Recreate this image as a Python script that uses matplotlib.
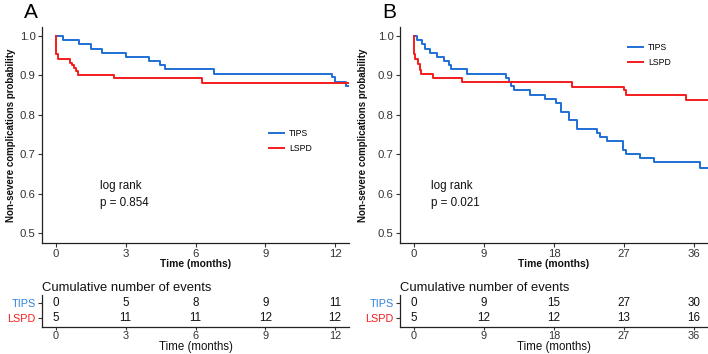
import numpy as np
import matplotlib
matplotlib.use("Agg")
import matplotlib.pyplot as plt

plt.rcParams['font.family'] = ['Liberation Sans', 'DejaVu Sans']

# panel A (12 months)
tips_a_t = [0, 0.31, 1.0, 1.49, 2.0, 3.0, 4.0, 4.49, 4.69, 6.81, 11.89, 11.98, 12.46, 12.6]
tips_a_s = [1.0, 0.990, 0.979, 0.968, 0.958, 0.947, 0.937, 0.926, 0.916, 0.905, 0.895, 0.884, 0.874, 0.874]
lspd_a_t = [0, 0, 0.07, 0.6, 0.7, 0.79, 0.86, 0.96, 2.5, 6.27, 12.6]
lspd_a_s = [1.0, 0.954, 0.941, 0.932, 0.926, 0.919, 0.912, 0.902, 0.893, 0.882, 0.882]

# panel B (36 months)
tips_b_t = [0, 0.43, 1.0, 1.45, 2.0, 2.9, 3.86, 4.45, 4.71, 6.86, 11.8, 12.2, 12.5, 12.9,
            14.9, 16.9, 18.3, 18.9, 19.9, 20.9, 23.5, 23.9, 24.8, 26.9, 27.2, 29.0, 30.9, 36.8, 37.8]
tips_b_s = [1.0, 0.990, 0.979, 0.968, 0.958, 0.947, 0.937, 0.926, 0.916, 0.905, 0.894, 0.884, 0.873, 0.862,
            0.851, 0.840, 0.829, 0.807, 0.786, 0.765, 0.755, 0.744, 0.734, 0.712, 0.701, 0.690, 0.680, 0.666, 0.666]
lspd_b_t = [0, 0, 0.15, 0.5, 0.75, 0.95, 2.48, 6.2, 20.3, 27.0, 27.3, 35.0, 37.8]
lspd_b_s = [1.0, 0.954, 0.941, 0.930, 0.913, 0.903, 0.893, 0.883, 0.871, 0.862, 0.851, 0.839, 0.839]

ticks_a = [0, 3, 6, 9, 12]
ticks_b = [0, 9, 18, 27, 36]
tips_events_a = [0, 5, 8, 9, 11]
lspd_events_a = [5, 11, 11, 12, 12]
tips_events_b = [0, 9, 15, 27, 30]
lspd_events_b = [5, 12, 12, 13, 16]
pvals = ["0.854", "0.021"]

blue = '#1F6FD6'
red = '#F41C1C'
txt = '#333333'

W, H = 708, 354
fig = plt.figure(figsize=(W / 100, H / 100), dpi=100)


def box(l, t, r, b):
    return [l / W, 1 - b / H, (r - l) / W, (b - t) / H]


def style(ax):
    for s in ['top', 'right']:
        ax.spines[s].set_visible(False)
    for s in ['left', 'bottom']:
        ax.spines[s].set_color('#222222')
        ax.spines[s].set_linewidth(0.9)
    ax.tick_params(length=3, width=0.8, color='#333333', labelcolor=txt, labelsize=8.2, pad=1.5)


panels = [
    dict(x0=42, x1=349, xlim=(-0.6, 12.6), ticks=ticks_a, tt=tips_a_t, ts=tips_a_s,
         lt=lspd_a_t, ls=lspd_a_s, te=tips_events_a, le=lspd_events_a, p=pvals[0],
         leg=(0.81, 0.47), letter='A', lx=24, px=0.19, ylx=-0.085),
    dict(x0=400, x1=708, xlim=(-1.8, 37.8), ticks=ticks_b, tt=tips_b_t, ts=tips_b_s,
         lt=lspd_b_t, ls=lspd_b_s, te=tips_events_b, le=lspd_events_b, p=pvals[1],
         leg=(0.81, 0.87), letter='B', lx=382, px=0.1, ylx=-0.104),
]

for pnl in panels:
    ax = fig.add_axes(box(pnl['x0'], 27, pnl['x1'], 243))
    style(ax)
    ax.plot(pnl['tt'], pnl['ts'], drawstyle='steps-post', color=blue, lw=1.4, label='TIPS')
    ax.plot(pnl['lt'], pnl['ls'], drawstyle='steps-post', color=red, lw=1.4, label='LSPD')
    ax.set_xlim(*pnl['xlim'])
    ax.set_ylim(0.475, 1.023)
    ax.set_xticks(pnl['ticks'])
    ax.set_yticks([0.5, 0.6, 0.7, 0.8, 0.9, 1.0])
    ax.set_yticklabels(['0.5', '0.6', '0.7', '0.8', '0.9', '1.0'])
    ax.set_xlabel('Time (months)', fontsize=7.4, fontweight='bold', color='#111111')
    ax.xaxis.set_label_coords(0.5, -0.072)
    ax.set_ylabel('Non-severe complications probability', fontsize=7.0, fontweight='bold',
                  color='#111111')
    ax.yaxis.set_label_coords(pnl['ylx'], 0.5)
    ax.text(pnl['px'], 0.265, 'log rank', transform=ax.transAxes,
            fontsize=8.4, color='#111111', va='center')
    ax.text(pnl['px'], 0.185, 'p = ' + pnl['p'], transform=ax.transAxes,
            fontsize=8.4, color='#111111', va='center')
    ax.legend(loc='center', bbox_to_anchor=pnl['leg'], frameon=False, fontsize=6.2,
              handlelength=1.7, handletextpad=0.6, labelspacing=0.7)
    fig.text(pnl['lx'] / W, 1 - 13 / H, pnl['letter'], fontsize=15, va='center', ha='left')

    # risk table
    rt = fig.add_axes(box(pnl['x0'], 295, pnl['x1'], 327))
    style(rt)
    rt.tick_params(axis='x', length=2.2, pad=0.5, labelsize=7.9)
    rt.set_xlim(*pnl['xlim'])
    rt.set_ylim(0.4, 2.53)
    rt.set_xticks(pnl['ticks'])
    rt.set_yticks([2, 1])
    rt.set_yticklabels(['TIPS', 'LSPD'], fontsize=7.8)
    rt.get_yticklabels()[0].set_color('#2D84DE')
    rt.get_yticklabels()[1].set_color(red)
    for x, a, b in zip(pnl['ticks'], pnl['te'], pnl['le']):
        rt.text(x, 2, str(a), ha='center', va='center', fontsize=8.4, color='#111111')
        rt.text(x, 1, str(b), ha='center', va='center', fontsize=8.4, color='#111111')
    rt.set_xlabel('Time (months)', fontsize=8.3, color='#111111')
    rt.xaxis.set_label_coords(0.5, -0.45)
    rt.set_title('Cumulative number of events', fontsize=9.4, loc='left', pad=3, color='#111111')

fig.savefig('out.png', dpi=100)
